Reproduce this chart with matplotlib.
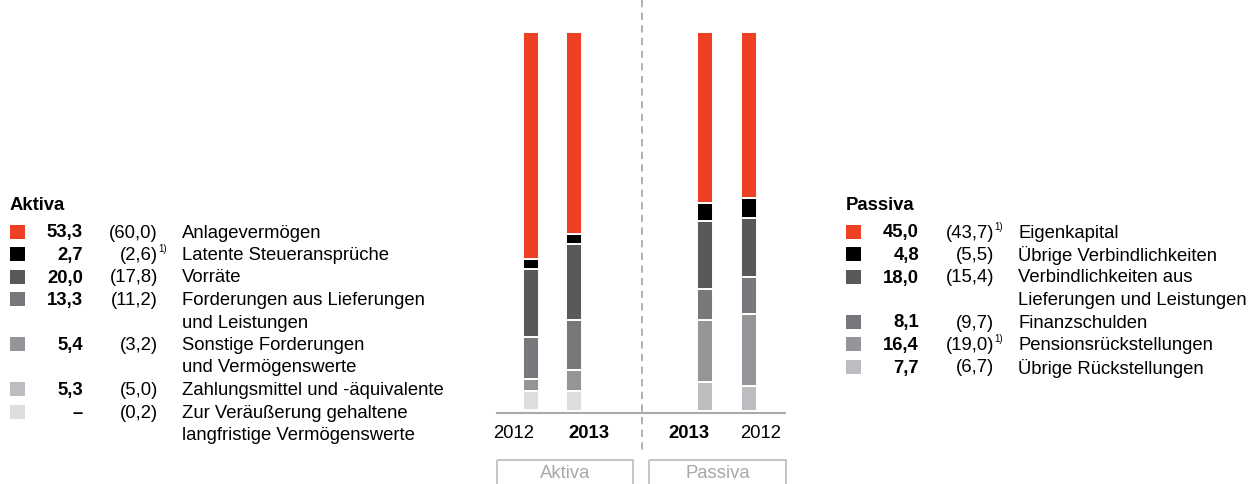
import matplotlib.pyplot as plt
from matplotlib.patches import Rectangle

plt.rcParams['font.family'] = ['Liberation Sans', 'DejaVu Sans']

# Aktiva, top segment first (share of balance sheet total in %)
aktiva_labels = ['Anlagevermögen', 'Latente Steueransprüche', 'Vorräte',
                 'Forderungen aus Lieferungen\nund Leistungen',
                 'Sonstige Forderungen\nund Vermögenswerte',
                 'Zahlungsmittel und -äquivalente',
                 'Zur Veräußerung gehaltene\nlangfristige Vermögenswerte']
aktiva_2013 = [53.3, 2.7, 20.0, 13.3, 5.4, 5.3, 0.0]
aktiva_2012 = [60.0, 2.6, 17.8, 11.2, 3.2, 5.0, 0.2]
aktiva_note = [False, True, False, False, False, False, False]

# Passiva, top segment first
passiva_labels = ['Eigenkapital', 'Übrige Verbindlichkeiten',
                  'Verbindlichkeiten aus\nLieferungen und Leistungen',
                  'Finanzschulden', 'Pensionsrückstellungen', 'Übrige Rückstellungen']
passiva_2013 = [45.0, 4.8, 18.0, 8.1, 16.4, 7.7]
passiva_2012 = [43.7, 5.5, 15.4, 9.7, 19.0, 6.7]
passiva_note = [True, False, False, False, True, False]

RED, BLACK, DARK, MID = '#EE4023', '#000000', '#58595B', '#77787B'
GRAY, LIGHT, VLIGHT = '#939598', '#BCBDC0', '#DCDDDE'
aktiva_colors = [RED, BLACK, DARK, MID, GRAY, LIGHT, VLIGHT]
aktiva_bar_colors = [RED, BLACK, DARK, MID, GRAY, VLIGHT, VLIGHT]
passiva_colors = [RED, BLACK, DARK, MID, GRAY, LIGHT]

W, H = 1258, 484
fig = plt.figure(figsize=(W / 100, H / 100), dpi=100)

# overlay axes in pixel coordinates for text and decorations
ov = fig.add_axes([0, 0, 1, 1])
ov.set_xlim(0, W)
ov.set_ylim(H, 0)
ov.axis('off')

# bar axes: x in pixels, y in percent
bx_l, bx_r, by_t, by_b = 497, 785, 32, 411
ax = fig.add_axes([bx_l / W, 1 - by_b / H, (bx_r - bx_l) / W, (by_b - by_t) / H])
ax.set_xlim(bx_l, bx_r)
ax.set_ylim(0, 100)
ax.axis('off')


def stack(x, values, colors):
    bottom = 0
    for v, c in zip(values[::-1], colors[::-1]):
        if v > 0:
            ax.bar(x, v, width=16, bottom=bottom, color=c, edgecolor='white', linewidth=1.4)
        bottom += v


stack(531, aktiva_2012, aktiva_bar_colors)
stack(574, aktiva_2013, aktiva_bar_colors)
stack(705, passiva_2013, passiva_colors)
stack(749, passiva_2012, passiva_colors)

FS = 13.3
ov.plot([497, 785], [413, 413], color='#AAAAAA', lw=1.5)
ov.plot([642, 642], [0, 455], color='#AAAAAA', lw=1.3, ls=(0, (4, 3)))

for x, txt, bold in [(514, '2012', False), (589, '2013', True),
                     (689, '2013', True), (761, '2012', False)]:
    ov.text(x, 434, txt, ha='center', va='center', fontsize=FS,
            fontweight='bold' if bold else 'normal')

for x0, x1, txt in [(497, 633, 'Aktiva'), (649, 786, 'Passiva')]:
    ov.add_patch(Rectangle((x0, 460), x1 - x0, 30, fill=False, ec='#BBBBBB', lw=1.2))
    ov.text((x0 + x1) / 2, 474, txt, ha='center', va='center', fontsize=FS, color='#A8A8A8')


def legend(title, x_sq, x_val, x_prev, x_lab, labels, cur, prev, notes, colors):
    ov.text(x_sq, 206, title, ha='left', va='center', fontsize=FS, fontweight='bold')
    y = 233
    for lab, c, p, n, col in zip(labels, cur, prev, notes, colors):
        ov.add_patch(Rectangle((x_sq, y - 8.5), 15, 14, color=col, lw=0))
        val = f'{c:.1f}'.replace('.', ',') if c > 0 else '–'
        ov.text(x_val, y, val, ha='right', va='center', fontsize=FS, fontweight='bold')
        ov.text(x_prev, y, '(' + f'{p:.1f}'.replace('.', ',') + ')',
                ha='right', va='center', fontsize=FS)
        if n:
            ov.text(x_prev, y - 6, '1)', ha='left', va='center', fontsize=7)
        for line in lab.split('\n'):
            ov.text(x_lab, y, line, ha='left', va='center', fontsize=FS)
            y += 22.5


legend('Aktiva', 10, 83, 158, 182, aktiva_labels, aktiva_2013, aktiva_2012,
       aktiva_note, aktiva_colors)
legend('Passiva', 846, 919, 994, 1018, passiva_labels, passiva_2013, passiva_2012,
       passiva_note, passiva_colors)

fig.savefig('out.png', dpi=100)
